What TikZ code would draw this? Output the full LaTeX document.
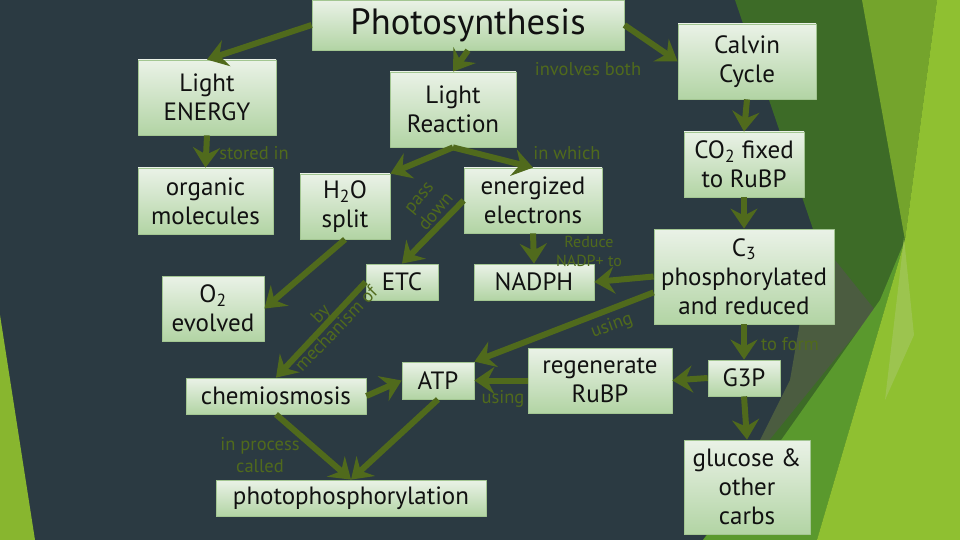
\documentclass[tikz,border=0pt]{standalone}
\usepackage{fontspec}
\setmainfont{PT Sans}
\usepackage{tikz}
\usetikzlibrary{arrows.meta}
\definecolor{slate}{HTML}{2B3A42}
\definecolor{darkleaf}{HTML}{3D6B27}
\definecolor{midleaf}{HTML}{74A42C}
\definecolor{lowleaf}{HTML}{5A992D}
\definecolor{limeleaf}{HTML}{8FC031}
\definecolor{paleleaf}{HTML}{9CC44F}
\definecolor{haze}{HTML}{4B5C40}
\definecolor{leaf}{HTML}{506A1C}
\definecolor{boxtop}{HTML}{EAF2E7}
\definecolor{boxbot}{HTML}{B2D4A4}
\definecolor{boxline}{HTML}{A3C692}
\definecolor{ink}{HTML}{111111}
\tikzset{
  box/.style={draw=boxline, line width=0.8pt, top color=boxtop, bottom color=boxbot,
    text=ink, font=\fontsize{25}{29}\selectfont, align=center, inner sep=0pt},
  conn/.style={draw=leaf, line width=6pt, -{Stealth[length=20pt,width=27pt,inset=7pt]}},
  lab/.style={text=leaf, font=\fontsize{18.5}{22}\selectfont, align=center, inner sep=0pt},
  smalllab/.style={lab, font=\fontsize{16}{19}\selectfont}
}

\begin{document}
\begin{tikzpicture}[x=1pt, y=-1pt, line join=round]
  \useasboundingbox (0,0) rectangle (960,540);
  % background facets
  \fill[slate] (0,0) rectangle (960,540);
  \fill[limeleaf!95!black] (0,315) -- (35,540) -- (0,540) -- cycle;
  \fill[darkleaf] (735,0) -- (960,0) -- (960,540) -- (703,540) -- (835,330) -- (815,235) -- cycle;
  \fill[haze] (815,235) -- (875,310) -- (745,470) -- (790,380) -- cycle;
  \fill[lowleaf] (760,470) -- (880,300) -- (905,240) -- (817,540) -- (703,540) -- cycle;
  \fill[midleaf] (862,0) -- (937,0) -- (905,240) -- cycle;
  \fill[limeleaf] (937,0) -- (960,0) -- (960,540) -- (817,540) -- (905,240) -- cycle;
  \fill[paleleaf] (904,238) -- (914,335) -- (885,400) -- cycle;

  % boxes
  \node[box, minimum width=312, minimum height=50, font=\fontsize{36.5}{40}\selectfont] (photo) at (468,25) {Photosynthesis};
  \node[box, minimum width=138, minimum height=75] (energy) at (207,97.5) {Light\\ENERGY};
  \node[box, minimum width=126, minimum height=75] (lightR) at (453,109.5) {Light\\Reaction};
  \node[box, minimum width=138, minimum height=75] (calvin) at (747,61.5) {Calvin\\Cycle};
  \node[box, minimum width=135, minimum height=66] (organic) at (205.5,201) {organic\\molecules};
  \node[box, minimum width=90, minimum height=65] (water) at (345,206.5) {H\textsubscript{2}O\\split};
  \node[box, minimum width=138, minimum height=65] (electrons) at (533,200.5) {energized\\electrons};
  \node[box, minimum width=120, minimum height=65] (fixed) at (744,164.5) {CO\textsubscript{2} fixed\\to RuBP};
  \node[box, minimum width=102, minimum height=65] (oxygen) at (213,308.5) {O\textsubscript{2}\\evolved};
  \node[box, minimum width=72, minimum height=36] (etc) at (402,282) {ETC};
  \node[box, minimum width=120, minimum height=36] (nadph) at (534,282) {NADPH};
  \node[box, minimum width=180, minimum height=95] (cthree) at (744,276.5) {C\textsubscript{3}\\phosphorylated\\and reduced};
  \node[box, minimum width=180, minimum height=36] (chemi) at (276,396) {chemiosmosis};
  \node[box, minimum width=72, minimum height=37] (atp) at (438,380.5) {ATP};
  \node[box, minimum width=144, minimum height=65] (rubp) at (600,380.5) {regenerate\\RuBP};
  \node[box, minimum width=72, minimum height=36] (gthree) at (744,378) {G3P};
  \node[box, minimum width=270, minimum height=36] (photophos) at (351,498) {photophosphorylation};
  \node[box, minimum width=126, minimum height=94] (glucose) at (747,487) {glucose \&\\other\\carbs};

  % labels
  \node[lab] (storedin) at (254,153) {stored in};
  \node[lab] (involves) at (588,69) {involves both};
  \node[lab] (inwhich) at (567,153) {in which};
  \node[lab, rotate=50] (passdown) at (428,205) {pass\\down};
  \node[smalllab] (reduce) at (589,251) {Reduce\\NADP+ to};
  \node[lab, rotate=46] (mechanism) at (328,321) {by\\mechanism of};
  \node[lab, rotate=20] (usingA) at (612,326) {using};
  \node[lab] (usingB) at (503,399) {using};
  \node[lab] (toform) at (790,344) {to form};
  \node[lab] (inprocess) at (260,455) {in process\\called};

  % connectors
  \draw[conn] (photo.west) -- (energy.north);
  \draw[conn] (photo.south) -- (lightR.north);
  \draw[conn] (photo.east) -- (calvin.west);
  \draw[conn] (energy.south) -- (organic.north);
  \draw[conn] (lightR.south) -- (water.north east);
  \draw[conn] (lightR.south) -- (electrons.north);
  \draw[conn] (water.south) -- (oxygen.east);
  \draw[conn] (electrons.west) -- (etc.north);
  \draw[conn] (electrons.south) -- (nadph.north);
  \draw[conn] (etc.west) -- (chemi.north);
  \draw[conn] (chemi.east) -- (atp.west);
  \draw[conn] (chemi.south) -- (photophos.north);
  \draw[conn] (atp.south) -- (photophos.north);
  \draw[conn] (calvin.south) -- (fixed.north);
  \draw[conn] (fixed.south) -- (cthree.north);
  \draw[conn] (cthree.west) -- (nadph.east);
  \draw[conn] (cthree.190) -- (atp.north east);
  \draw[conn] (rubp.west) -- (atp.east);
  \draw[conn] (cthree.south) -- (gthree.north);
  \draw[conn] (gthree.west) -- (rubp.east);
  \draw[conn] (gthree.south) -- (glucose.north);
\end{tikzpicture}
\end{document}
